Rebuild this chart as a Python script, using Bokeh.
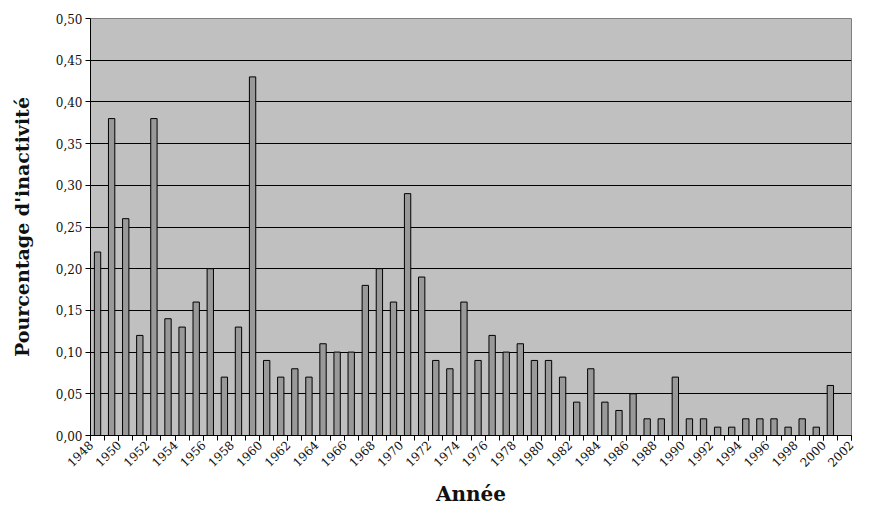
import math
from bokeh.plotting import figure
from bokeh.models import ColumnDataSource, FixedTicker, CustomJSTickFormatter, Range1d
from bokeh.embed import file_html
from bokeh.resources import INLINE

years = list(range(1948, 2001))
values = [0.22, 0.38, 0.26, 0.12, 0.38, 0.14, 0.13, 0.16, 0.20, 0.07,
          0.13, 0.43, 0.09, 0.07, 0.08, 0.07, 0.11, 0.10, 0.10, 0.18,
          0.20, 0.16, 0.29, 0.19, 0.09, 0.08, 0.16, 0.09, 0.12, 0.10,
          0.11, 0.09, 0.09, 0.07, 0.04, 0.08, 0.04, 0.03, 0.05, 0.02,
          0.02, 0.07, 0.02, 0.02, 0.01, 0.01, 0.02, 0.02, 0.02, 0.01,
          0.02, 0.01, 0.06]
x_tick_labels = list(range(1948, 2003, 2))
y_ticks = [0.00, 0.05, 0.10, 0.15, 0.20, 0.25, 0.30, 0.35, 0.40, 0.45, 0.50]

centers = [y + 0.5 for y in years]
src = ColumnDataSource(dict(x=centers, top=values, year=years))

p = figure(width=854, height=509, output_backend="svg", toolbar_location=None,
           x_range=Range1d(1948, 2002), y_range=Range1d(0, 0.5),
           min_border_left=90, min_border_top=18, min_border_right=3,
           min_border_bottom=72)

p.background_fill_color = "#C0C0C0"
p.border_fill_color = "white"
p.outline_line_color = "#808080"
p.outline_line_width = 1

p.vbar(x="x", top="top", bottom=0, width=0.45, source=src,
       fill_color="#999999", line_color="black", line_width=1)

# grid
p.xgrid.visible = False
p.ygrid.ticker = FixedTicker(ticks=y_ticks)
p.ygrid.grid_line_color = "black"
p.ygrid.grid_line_width = 1

# x axis
xa = p.xaxis[0]
xa.ticker = FixedTicker(ticks=x_tick_labels, minor_ticks=list(range(1948, 2003)))
xa.major_label_orientation = math.pi / 4
xa.major_tick_out = 5
xa.major_tick_in = 0
xa.minor_tick_out = 5
xa.minor_tick_in = 0
xa.axis_line_color = "black"
xa.major_label_text_font = "DejaVu Serif"
xa.major_label_text_font_size = "12px"
xa.major_label_text_color = "#111111"
xa.major_label_standoff = 2
xa.axis_label = "Année"
xa.axis_label_text_font = "DejaVu Serif"
xa.axis_label_text_font_style = "bold"
xa.axis_label_text_font_size = "20px"
xa.axis_label_text_color = "#111111"
xa.axis_label_standoff = 8

# y axis
ya = p.yaxis[0]
ya.ticker = FixedTicker(ticks=y_ticks)
ya.formatter = CustomJSTickFormatter(code="return tick.toFixed(2).replace('.', ',');")
ya.major_tick_out = 5
ya.major_tick_in = 0
ya.minor_tick_out = 0
ya.minor_tick_in = 0
ya.axis_line_color = "black"
ya.major_label_text_font = "DejaVu Serif"
ya.major_label_text_font_size = "12px"
ya.major_label_text_color = "#111111"
ya.major_label_standoff = 3
ya.axis_label = "Pourcentage d'inactivité"
ya.axis_label_text_font = "DejaVu Serif"
ya.axis_label_text_font_style = "bold"
ya.axis_label_text_font_size = "19px"
ya.axis_label_text_color = "#111111"
ya.axis_label_standoff = 20

open("out.html", "w").write(file_html(p, INLINE))
